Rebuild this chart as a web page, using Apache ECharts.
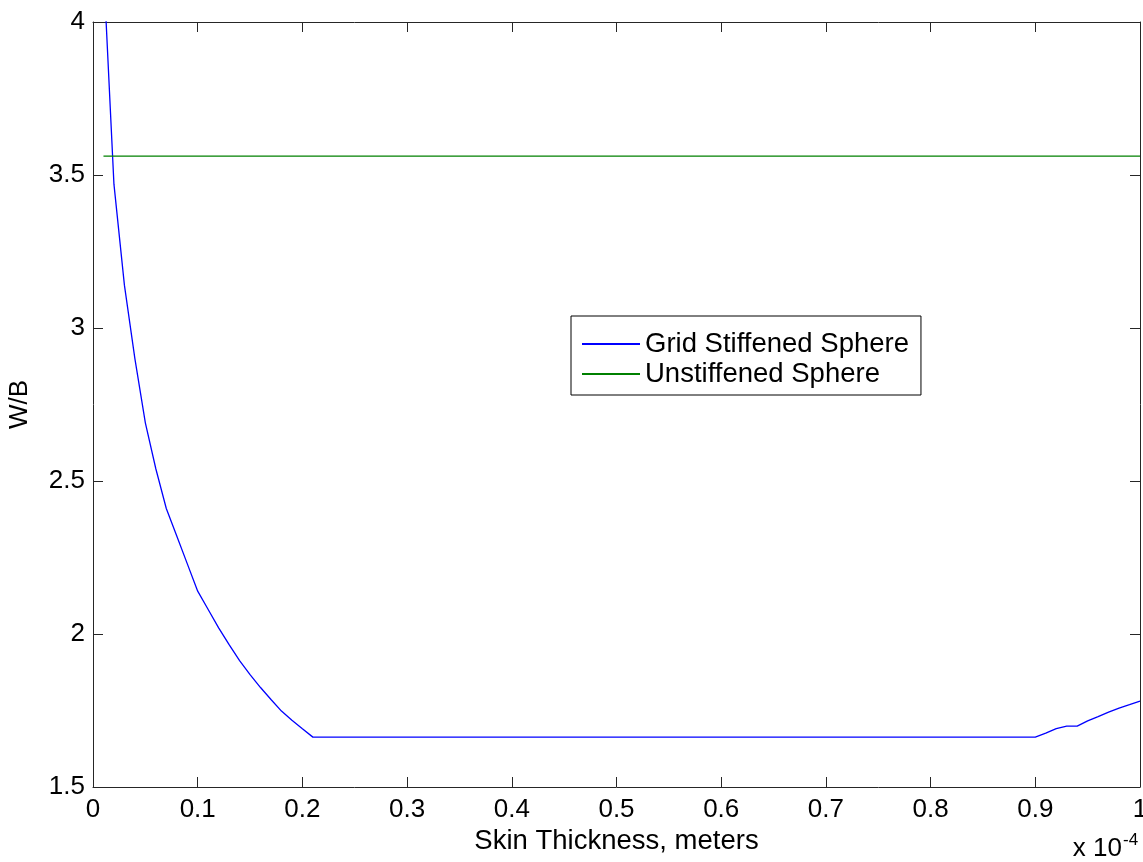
<!DOCTYPE html>
<html>
<head>
<meta charset="utf-8">
<script src="https://cdn.jsdelivr.net/npm/echarts@6/dist/echarts.min.js"></script>
<style>
html,body{margin:0;padding:0;background:#fff;}
#chart{width:1143px;height:862px;}
</style>
</head>
<body>
<div id="chart"></div>
<script>
// Data (x in units of 1e-4 meters)
const gridX = [0.01,0.02,0.03,0.04,0.05,0.06,0.07,0.08,0.09,0.10,0.11,0.12,0.13,0.14,0.15,0.16,0.17,0.18,0.19,0.20,0.21,
               0.90,0.91,0.92,0.93,0.94,0.95,0.96,0.97,0.98,0.99,1.00];
const gridY = [4.18,3.47,3.14,2.90,2.69,2.54,2.41,2.32,2.23,2.14,2.08,2.02,1.965,1.913,1.867,1.825,1.786,1.748,1.718,1.690,1.663,
               1.663,1.676,1.691,1.699,1.699,1.716,1.730,1.745,1.758,1.769,1.781];
const unstiffX = [0.01, 1.00];
const unstiffY = [3.562, 3.562];
const seriesNames = ['Grid Stiffened Sphere', 'Unstiffened Sphere'];
const xAxisTitle = 'Skin Thickness, meters';
const yAxisTitle = 'W/B';
const scaleBase = 'x 10';
const scaleExp = '-4';

const zip = (xs, ys) => xs.map((x, i) => [x, ys[i]]);
const font = 'Liberation Sans, Arial, Helvetica, sans-serif';
const axisColor = '#262626';

const chart = echarts.init(document.getElementById('chart'), null, {renderer: 'canvas'});
const baseX = {
  type: 'value', min: 0, max: 1, interval: 0.1, gridIndex: 0,
  splitLine: {show: false},
  axisLine: {show: true, onZero: false, lineStyle: {color: axisColor, width: 1}},
  axisTick: {show: true, inside: true, length: 10, lineStyle: {color: axisColor}},
};
const baseY = {
  type: 'value', min: 1.5, max: 4, interval: 0.5, gridIndex: 0,
  splitLine: {show: false},
  axisLine: {show: true, onZero: false, lineStyle: {color: axisColor, width: 1}},
  axisTick: {show: true, inside: true, length: 10, lineStyle: {color: axisColor}},
};
chart.setOption({
  animation: false,
  backgroundColor: '#fff',
  grid: {left: 93, top: 22, right: 3, bottom: 75, containLabel: false, outerBoundsMode: 'none'},
  xAxis: [
    Object.assign({}, baseX, {
      position: 'bottom',
      axisLabel: {show: true, color: '#000', fontFamily: font, fontSize: 26, margin: 10,
        formatter: v => String(+v.toFixed(1))},
      name: xAxisTitle, nameLocation: 'middle', nameGap: 23,
      nameTextStyle: {color: '#000', fontFamily: font, fontSize: 27.5}
    }),
    Object.assign({}, baseX, {position: 'top', axisLabel: {show: false}})
  ],
  yAxis: [
    Object.assign({}, baseY, {
      position: 'left',
      axisLabel: {show: true, color: '#000', fontFamily: font, fontSize: 26, margin: 8},
      name: yAxisTitle, nameLocation: 'middle', nameGap: 60, nameRotate: 90,
      nameTextStyle: {color: '#000', fontFamily: font, fontSize: 26}
    }),
    Object.assign({}, baseY, {position: 'right', axisLabel: {show: false}})
  ],
  legend: {
    orient: 'vertical', left: 571, top: 316,
    padding: [13, 12, 6, 11], itemGap: 0,
    itemWidth: 58, itemHeight: 2, icon: 'rect',
    backgroundColor: '#fff', borderColor: '#000', borderWidth: 1, borderRadius: 0,
    textStyle: {color: '#000', fontFamily: font, fontSize: 27.5, lineHeight: 30, padding: [0,0,0,0]},
    data: seriesNames
  },
  series: [
    {name: seriesNames[0], type: 'line', data: zip(gridX, gridY), showSymbol: false, symbol: 'none',
     lineStyle: {color: '#0000ff', width: 1.3}, itemStyle: {color: '#0000ff'}, clip: true},
    {name: seriesNames[1], type: 'line', data: zip(unstiffX, unstiffY), showSymbol: false, symbol: 'none',
     lineStyle: {color: '#008000', width: 1.3}, itemStyle: {color: '#008000'}, clip: true}
  ],
  graphic: [
    {type: 'text', x: 1122, y: 862,
     style: {text: scaleBase, fill: '#000', font: '26px ' + font, textAlign: 'right', textVerticalAlign: 'bottom'}},
    {type: 'text', x: 1123, y: 849,
     style: {text: scaleExp, fill: '#000', font: '17px ' + font, textAlign: 'left', textVerticalAlign: 'bottom'}}
  ]
});
</script>
</body>
</html>
